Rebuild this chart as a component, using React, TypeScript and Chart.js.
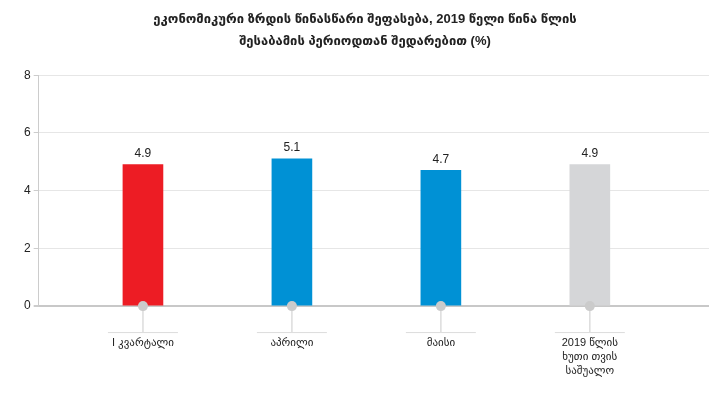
import React, { useEffect, useRef } from "react";
import { Chart, registerables } from "chart.js";

Chart.register(...registerables);

const titleLines = [
  "ეკონომიკური ზრდის წინასწარი შეფასება, 2019 წელი წინა წლის",
  "შესაბამის პერიოდთან შედარებით (%)",
];
const categories: string[][] = [
  ["I კვარტალი"],
  ["აპრილი"],
  ["მაისი"],
  ["2019 წლის", "ხუთი თვის", "საშუალო"],
];
const values = [4.9, 5.1, 4.7, 4.9];
const yTicks = [0, 2, 4, 6, 8];

const barColors = ["#ED1C24", "#0091D5", "#0091D5", "#D5D6D8"];
const FONT = "'Liberation Sans', 'DejaVu Sans', Arial, sans-serif";
const LABEL_PAD = 30;

const decorPlugin = {
  id: "decor",
  afterDatasetsDraw(chart: any) {
    const ctx = chart.ctx;
    const xs = chart.scales.x;
    const ys = chart.scales.y;
    const y0 = ys.getPixelForValue(0);
    ctx.save();
    values.forEach((v, i) => {
      const x = xs.getPixelForValue(i);
      ctx.strokeStyle = "#dcdcdc";
      ctx.lineWidth = 1.5;
      ctx.beginPath();
      ctx.moveTo(x, y0);
      ctx.lineTo(x, y0 + 26);
      ctx.stroke();
      ctx.lineWidth = 1;
      ctx.beginPath();
      ctx.moveTo(x - 35, y0 + 26.5);
      ctx.lineTo(x + 35, y0 + 26.5);
      ctx.stroke();
      ctx.fillStyle = "#cbcbcb";
      ctx.beginPath();
      ctx.arc(x, y0, 5, 0, Math.PI * 2);
      ctx.fill();
      const yt = ys.getPixelForValue(v);
      ctx.fillStyle = "#222";
      ctx.font = `12px ${FONT}`;
      ctx.textAlign = "center";
      ctx.textBaseline = "middle";
      ctx.fillText(String(v), x, yt - 11);
    });
    ctx.restore();
  },
};

export default function App() {
  const ref = useRef<HTMLCanvasElement>(null);
  useEffect(() => {
    if (!ref.current) return;
    const chart = new Chart(ref.current, {
      type: "bar",
      data: {
        datasets: [
          {
            data: values.map((v, i) => ({ x: i, y: v })),
            backgroundColor: barColors,
            barThickness: 40,
            borderWidth: 0,
          },
        ],
      },
      plugins: [decorPlugin],
      options: {
        animation: false,
        responsive: true,
        maintainAspectRatio: false,
        layout: { padding: { left: 13, right: 1, top: 0, bottom: 12 } },
        plugins: {
          legend: { display: false },
          tooltip: { enabled: false },
          title: {
            display: true,
            text: titleLines,
            color: "#222",
            font: { family: FONT, size: 13, weight: "bold", lineHeight: 1.7 },
            padding: { top: 0, bottom: 23 },
          },
        },
        scales: {
          x: {
            type: "linear",
            offset: false,
            min: -0.7,
            max: 3.8,
            afterBuildTicks: (scale: any) => {
              scale.ticks = categories.map((_, i) => ({ value: i }));
            },
            afterFit: (scale: any) => {
              scale.height -= LABEL_PAD;
            },
            grid: { display: false, drawTicks: false },
            border: { display: false },
            ticks: {
              autoSkip: false,
              maxRotation: 0,
              padding: LABEL_PAD,
              color: "#222",
              font: { family: FONT, size: 11, lineHeight: 1.27 },
              callback: (value: any) => categories[value as number] ?? "",
            },
          },
          y: {
            min: 0,
            max: 8,
            afterBuildTicks: (scale: any) => {
              scale.ticks = yTicks.map((v) => ({ value: v }));
            },
            grid: {
              color: (c: any) => (c.tick && c.tick.value === 0 ? "#c8c8c8" : "#e6e6e6"),
              lineWidth: (c: any) => (c.tick && c.tick.value === 0 ? 2 : 1),
              tickColor: "#cccccc",
              tickLength: 5,
            },
            border: { display: true, color: "#cccccc", width: 1 },
            ticks: {
              padding: 3,
              color: "#222",
              font: { family: FONT, size: 12 },
            },
          },
        },
      },
    });
    return () => chart.destroy();
  }, []);
  return (
    <div style={{ width: 702, height: 382, position: "relative" }}>
      <canvas ref={ref} />
    </div>
  );
}
